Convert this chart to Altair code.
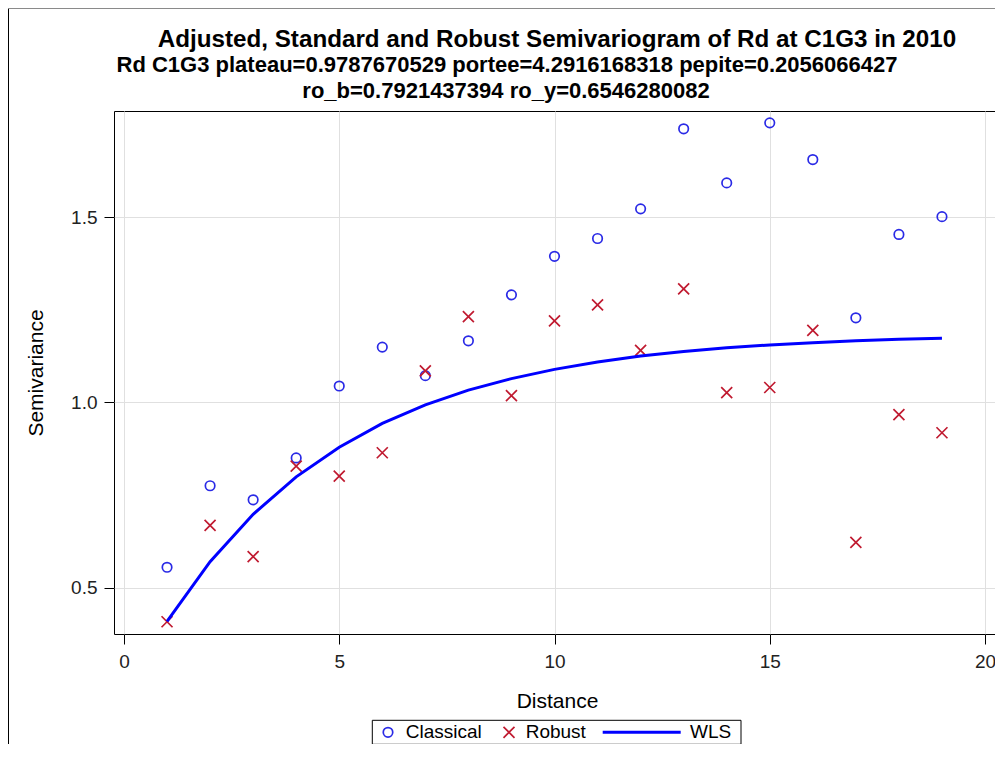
import altair as alt
import pandas as pd

# ---- data ----
distance = list(range(1, 20))
classical = [0.555, 0.775, 0.737, 0.850, 1.044, 1.149, 1.072, 1.166, 1.290, 1.394,
             1.442, 1.522, 1.738, 1.592, 1.754, 1.655, 1.228, 1.453, 1.501]
robust = [0.408, 0.668, 0.584, 0.828, 0.801, 0.864, 1.085, 1.231, 1.018, 1.220,
          1.263, 1.140, 1.306, 1.026, 1.040, 1.194, 0.622, 0.967, 0.918]
wls = [0.409, 0.570, 0.698, 0.799, 0.879, 0.943, 0.993, 1.033, 1.064, 1.089,
       1.109, 1.125, 1.137, 1.147, 1.155, 1.161, 1.166, 1.170, 1.173]

x_ticks = [0, 5, 10, 15, 20]
y_ticks = [0.5, 1.0, 1.5]

title_1 = "Adjusted, Standard and Robust Semivariogram of Rd at C1G3 in 2010"
title_2 = "Rd C1G3 plateau=0.9787670529 portee=4.2916168318 pepite=0.2056066427"
title_3 = "ro_b=0.7921437394 ro_y=0.6546280082"
legend_labels = ["Classical", "Robust", "WLS"]

FONT = "Liberation Sans"
BLUE_PT = "#2a2ae6"
RED_X = "#c01a30"
BLUE_LINE = "#0000ff"
X_SHAPE = "M-1,-1L1,1M-1,1L1,-1"

W, H = 881, 523

df_c = pd.DataFrame({"Distance": distance, "Semivariance": classical})
df_r = pd.DataFrame({"Distance": distance, "Semivariance": robust})
df_w = pd.DataFrame({"Distance": distance, "Semivariance": wls})

x_enc = alt.X(
    "Distance:Q",
    scale=alt.Scale(domain=[-0.232, 20.232], nice=False, zero=False),
    axis=alt.Axis(values=x_ticks, format="d", title="Distance", grid=True,
                  gridColor="#e0e0e0", domain=False, tickSize=10, tickColor="black",
                  labelFontSize=19, labelColor="#222222", labelPadding=8,
                  labelFont=FONT, titleFont=FONT, titleFontSize=21,
                  titleFontWeight="normal", titleColor="black",
                  titleX=443, titleY=73, titleBaseline="alphabetic"),
)
y_enc = alt.Y(
    "Semivariance:Q",
    scale=alt.Scale(domain=[0.375, 1.786], nice=False, zero=False),
    axis=alt.Axis(values=y_ticks, format=".1f", title="Semivariance", grid=True,
                  gridColor="#e0e0e0", domain=False, tickSize=10, tickColor="black",
                  labelFontSize=19, labelColor="#222222", labelPadding=7,
                  labelFont=FONT, titleFont=FONT, titleFontSize=21,
                  titleFontWeight="normal", titleColor="black",
                  titleX=-78, titleY=261.5, titleAngle=270, titleBaseline="middle",
                  titleAlign="center"),
)

pts_c = alt.Chart(df_c).mark_point(shape="circle", filled=False, size=90, opacity=1,
                                   color=BLUE_PT, strokeWidth=1.7).encode(x=x_enc, y=y_enc)
pts_r = alt.Chart(df_r).mark_point(shape=X_SHAPE, filled=False, size=121, opacity=1,
                                   color=RED_X, strokeWidth=1.7).encode(x=x_enc, y=y_enc)
line_w = alt.Chart(df_w).mark_line(color=BLUE_LINE, strokeWidth=3).encode(x=x_enc, y=y_enc)

one = pd.DataFrame({"k": [0]})

# titles
def title_text(txt, x, y, size):
    return alt.Chart(pd.DataFrame({"t": [txt]})).mark_text(
        font=FONT, fontSize=size, fontWeight="bold", align="center",
        baseline="alphabetic", color="black"
    ).encode(text="t:N", x=alt.value(x), y=alt.value(y))

t1 = title_text(title_1, 443, -64, 24.2)
t2 = title_text(title_2, 393, -39, 22.0)
t3 = title_text(title_3, 392, -13, 22.0)

# outer border
border_left = alt.Chart(one).mark_rule(color="black", strokeWidth=1).encode(
    x=alt.value(-105.5), y=alt.value(-102.5), y2=alt.value(640))
border_top = alt.Chart(one).mark_rule(color="#8a8a8a", strokeWidth=1).encode(
    x=alt.value(-105.5), x2=alt.value(W), y=alt.value(-102.5))

# legend box
LY = 621.3
leg_box = alt.Chart(one).mark_rect(fill="white", stroke="black", strokeWidth=1).encode(
    x=alt.value(258.3), x2=alt.value(627), y=alt.value(609.3), y2=alt.value(633.3))
leg_c = alt.Chart(one).mark_point(shape="circle", filled=False, size=90, color=BLUE_PT,
                                  opacity=1, strokeWidth=1.7).encode(x=alt.value(274), y=alt.value(LY))
leg_r = alt.Chart(one).mark_point(shape=X_SHAPE, filled=False, size=121, color=RED_X,
                                  opacity=1, strokeWidth=1.7).encode(x=alt.value(395), y=alt.value(LY))
leg_l = alt.Chart(one).mark_rule(color=BLUE_LINE, strokeWidth=3).encode(
    x=alt.value(488.7), x2=alt.value(566.7), y=alt.value(LY))

def leg_text(txt, x):
    return alt.Chart(pd.DataFrame({"t": [txt]})).mark_text(
        font=FONT, fontSize=19, align="left", baseline="middle", color="black"
    ).encode(text="t:N", x=alt.value(x), y=alt.value(LY))

lt1 = leg_text(legend_labels[0], 291.7)
lt2 = leg_text(legend_labels[1], 411.7)
lt3 = leg_text(legend_labels[2], 576)

chart = alt.layer(
    pts_c, pts_r, line_w, t1, t2, t3, border_left, border_top,
    leg_box, leg_c, leg_r, leg_l, lt1, lt2, lt3
).properties(
    width=W, height=H,
    padding={"left": 106, "top": 103, "right": 0, "bottom": 110},
    autosize=alt.AutoSizeParams(type="none"),
    background="white",
).configure(
    font=FONT,
    view=alt.ViewConfig(stroke="black", strokeWidth=1),
)

chart.save("out.html", embed_options={"renderer": "svg", "actions": False})
